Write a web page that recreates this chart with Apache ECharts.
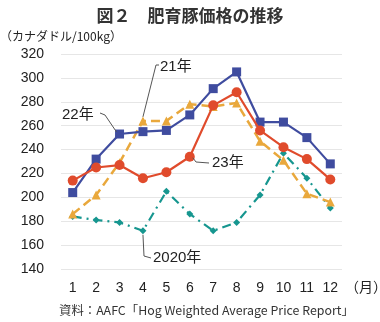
<!DOCTYPE html>
<html><head><meta charset="utf-8">
<script src="https://cdn.jsdelivr.net/npm/echarts@6/dist/echarts.min.js"></script>
<style>html,body{margin:0;padding:0;background:#fff}#c{width:380px;height:322px}</style>
</head><body><div id="c"></div>
<script>
const months = ['1','2','3','4','5','6','7','8','9','10','11','12'];
const yTicks = [140,160,180,200,220,240,260,280,300,320];
const y2020 = [184,181,179,172,205,186,172,179,202,237,216,191];
const y2021 = [186,202,229,264,264,278,276,279,247,231,203,196];
const y2022 = [204,232,253,255,256,269,291,305,263,263,250,228];
const y2023 = [214,225,227,216,221,234,277,288,256,242,232,215];

const FONT = "'Liberation Sans','Noto Sans CJK JP',sans-serif";
const chart = echarts.init(document.getElementById('c'), null, {renderer:'canvas'});
const txt = '#222';
chart.setOption({
  animation:false,
  title:{text:'図２　肥育豚価格の推移', left:'center', top:2,
    textStyle:{fontFamily:"'Noto Sans CJK JP',sans-serif", fontSize:17, fontWeight:'bold', color:'#333'}},
  grid:{left:61, right:38, top:54, bottom:53},
  xAxis:{type:'category', data:months, boundaryGap:true,
    axisLine:{show:false}, axisTick:{show:false},
    axisLabel:{fontFamily:FONT, fontSize:14, color:txt, margin:12}},
  yAxis:{type:'value', min:yTicks[0], max:yTicks[yTicks.length-1], interval:20,
    axisLine:{show:false}, axisTick:{show:false},
    splitLine:{lineStyle:{color:'#e6e6e6', width:1}},
    axisLabel:{fontFamily:FONT, fontSize:14, color:txt, margin:17}},
  series:[
    {name:'2020年', type:'line', data:y2020, symbol:'diamond', symbolSize:7,
      itemStyle:{color:'#16968f'}, lineStyle:{color:'#16968f', width:2.2, type:[9,5,2,5]}, z:2},
    {name:'21年', type:'line', data:y2021, symbol:'triangle', symbolSize:9,
      itemStyle:{color:'#e9a83c'}, lineStyle:{color:'#e9a83c', width:2.5, type:[9,5]}, z:3},
    {name:'22年', type:'line', data:y2022, symbol:'rect', symbolSize:9,
      itemStyle:{color:'#3f4c9f'}, lineStyle:{color:'#3f4c9f', width:2.2}, z:4},
    {name:'23年', type:'line', data:y2023, symbol:'circle', symbolSize:10,
      itemStyle:{color:'#e04b2c'}, lineStyle:{color:'#e04b2c', width:2.2}, z:5}
  ]
});

function px(i, v){ return chart.convertToPixel({gridIndex:0}, [i, v]); }
const p21 = px(3, y2021[3]);
const p22 = px(2, y2022[2]);
const p23 = px(5, y2023[5]);
const p20 = px(3, y2020[3]);
const lineStyle = {stroke:'#555', lineWidth:1, fill:null};
const tStyle = {fontFamily:"'Liberation Sans','Noto Sans CJK JP',sans-serif", fontSize:15, fill:'#222'};
chart.setOption({graphic:[
  {type:'text', left:0, top:30, style:{text:'（カナダドル/100kg）', fontFamily:"'Noto Sans CJK JP',sans-serif", fontSize:12, fill:'#222'}},
  {type:'text', x:345, y:280, style:Object.assign({}, tStyle, {text:'（月）', fontSize:14, fontFamily:"'Noto Sans CJK JP',sans-serif"})},
  {type:'text', x:59, y:304, style:{text:'資料：AAFC「Hog Weighted Average Price Report」', fontFamily:"'Noto Sans CJK JP',sans-serif", fontSize:12.4, fill:'#333'}},
  {type:'polyline', shape:{points:[[159,65],[156,65],p21.map((v,k)=>k?v-4:v)]}, style:lineStyle, z:10},
  {type:'text', x:160, y:59, style:Object.assign({}, tStyle, {text:'21年'})},
  {type:'polyline', shape:{points:[[100,113],[105,115],[p22[0]-3,p22[1]-2]]}, style:lineStyle, z:10},
  {type:'text', x:62, y:107, style:Object.assign({}, tStyle, {text:'22年'})},
  {type:'polyline', shape:{points:[[p23[0]+3,p23[1]+1],[196,162],[209,163]]}, style:lineStyle, z:10},
  {type:'text', x:212, y:155, style:Object.assign({}, tStyle, {text:'23年'})},
  {type:'polyline', shape:{points:[[p20[0],p20[1]+4],[144,256],[151,258]]}, style:lineStyle, z:10},
  {type:'text', x:153, y:250, style:Object.assign({}, tStyle, {text:'2020年'})}
]});
</script></body></html>
